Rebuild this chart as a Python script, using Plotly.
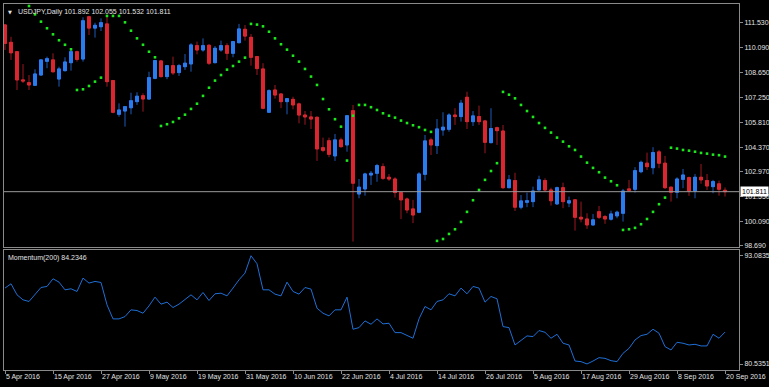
import pandas as pd
import plotly.graph_objects as go

# ---- data ----
dates = pd.bdate_range("2016-04-05", periods=121).strftime("%Y-%m-%d").tolist()

open_ = [111.40, 110.40, 109.86, 108.24, 108.08, 107.93, 108.52, 109.31, 109.39, 108.29,
         108.77, 109.23, 109.86, 109.44, 111.87, 111.22, 111.30, 111.46, 108.20, 106.26,
         106.45, 106.64, 106.99, 107.33, 107.14, 108.33, 109.33, 108.43, 109.06, 108.66,
         109.00, 109.16, 110.21, 109.96, 110.23, 109.23, 109.96, 110.21, 109.77, 110.38,
         111.15, 110.69, 109.58, 108.87, 106.38, 107.66, 107.43, 106.99, 107.12, 106.86,
         106.22, 106.11, 106.09, 104.34, 104.74, 103.87, 104.79, 104.50, 106.47, 101.68,
         101.97, 102.77, 102.87, 103.25, 102.64, 102.54, 101.76, 101.39, 100.82, 100.63,
         102.81, 104.79, 104.46, 105.36, 105.40, 106.22, 106.13, 107.24, 105.84, 106.13,
         105.88, 104.63, 105.49, 105.30, 102.04, 102.45, 100.92, 101.20, 101.24, 101.91,
         102.45, 101.91, 101.11, 102.04, 101.16, 101.34, 100.34, 100.24, 99.90, 100.66,
         100.38, 100.23, 100.42, 100.57, 101.97, 101.95, 102.96, 103.45, 103.19, 104.10,
         103.45, 102.07, 101.78, 102.52, 102.62, 101.85, 102.64, 102.45, 102.10, 102.26,
         101.892]
high = [111.45, 110.72, 109.90, 109.15, 108.52, 108.85, 109.42, 109.58, 109.77, 109.00,
        109.54, 110.02, 109.92, 111.84, 111.93, 111.53, 111.78, 111.87, 108.24, 106.89,
        106.74, 107.50, 107.53, 107.47, 108.71, 109.39, 109.39, 109.10, 109.58, 109.16,
        109.73, 110.35, 110.44, 110.63, 110.29, 110.19, 110.50, 110.35, 110.48, 111.46,
        111.40, 110.88, 109.62, 109.20, 107.70, 107.95, 107.47, 107.20, 107.27, 106.93,
        106.45, 106.45, 106.13, 104.92, 104.92, 105.13, 104.92, 106.22, 106.80, 102.54,
        102.90, 103.00, 103.41, 103.44, 102.83, 102.64, 101.81, 101.47, 101.34, 102.93,
        105.07, 104.92, 105.99, 106.38, 106.32, 106.61, 107.09, 107.56, 106.45, 106.76,
        105.94, 106.61, 105.55, 105.65, 102.77, 102.90, 101.62, 101.76, 102.10, 102.73,
        102.58, 102.04, 102.10, 102.33, 101.53, 101.38, 101.24, 100.57, 100.53, 100.99,
        100.47, 100.72, 100.72, 101.97, 102.49, 103.22, 103.60, 104.06, 104.37, 104.21,
        103.87, 102.10, 102.64, 103.12, 102.68, 102.83, 103.41, 102.83, 102.49, 102.45,
        102.055]
low = [109.96, 109.39, 107.66, 108.06, 107.66, 107.89, 108.50, 108.91, 108.66, 107.85,
       108.73, 108.77, 109.29, 109.29, 110.82, 110.67, 111.05, 107.85, 106.32, 106.12,
       105.55, 106.26, 106.80, 106.41, 107.12, 108.28, 108.37, 108.28, 108.52, 108.47,
       108.81, 108.71, 109.71, 109.86, 109.10, 109.20, 109.86, 109.39, 109.54, 110.35,
       110.50, 109.06, 108.52, 106.55, 106.35, 107.16, 106.61, 106.26, 106.55, 105.74,
       105.66, 105.42, 103.58, 104.08, 103.79, 103.58, 104.34, 104.11, 98.94, 101.43,
       101.58, 102.20, 102.38, 102.49, 102.43, 101.47, 100.23, 100.57, 100.00, 100.57,
       102.45, 103.92, 103.98, 105.03, 105.26, 105.65, 105.84, 105.42, 105.59, 105.65,
       104.02, 104.60, 104.50, 101.97, 102.01, 100.70, 100.80, 100.92, 100.92, 101.91,
       101.81, 101.01, 101.05, 100.86, 100.92, 99.57, 100.05, 99.67, 99.86, 100.24,
       99.96, 100.15, 100.28, 100.09, 101.81, 101.76, 102.87, 103.06, 102.81, 103.16,
       101.97, 101.24, 101.43, 102.01, 101.57, 101.43, 102.26, 101.91, 101.72, 101.58,
       101.532]
close = [110.34, 109.80, 108.24, 108.18, 107.95, 108.58, 109.39, 109.46, 108.71, 108.87,
         109.27, 109.86, 109.42, 111.64, 111.22, 111.38, 111.53, 108.14, 106.38, 106.51,
         106.70, 107.04, 107.30, 107.14, 108.37, 109.35, 108.43, 109.06, 108.64, 109.06,
         109.20, 110.25, 109.96, 110.21, 109.20, 110.06, 110.21, 109.77, 110.44, 111.17,
         110.76, 109.54, 108.89, 106.61, 107.62, 107.37, 106.99, 107.16, 106.80, 106.22,
         106.11, 105.99, 104.27, 104.19, 103.96, 104.79, 104.40, 106.18, 102.30, 102.07,
         102.83, 102.87, 103.31, 102.58, 102.54, 101.76, 101.34, 100.76, 100.47, 102.83,
         104.73, 104.50, 105.42, 105.52, 106.22, 106.13, 106.90, 105.84, 106.17, 105.84,
         104.65, 105.44, 105.32, 102.04, 102.49, 100.92, 101.28, 101.29, 101.85, 102.49,
         101.91, 101.29, 102.04, 101.24, 101.29, 100.34, 100.24, 99.90, 100.19, 100.34,
         100.24, 100.53, 100.63, 101.85, 101.89, 103.02, 103.50, 103.25, 104.06, 103.45,
         102.04, 101.78, 102.54, 102.77, 101.85, 102.64, 102.49, 102.14, 102.39, 101.95,
         101.811]
sar = [None, None, None, None, 112.49, 112.01, 111.59, 111.21, 110.86, 110.52,
       110.26, 110.00, 107.66, 107.70, 107.89, 108.14, 108.37, 111.92, 111.92, 111.92,
       111.55, 111.07, 110.63, 110.26, 109.86, 109.54, 105.59, 105.69, 105.82, 106.03,
       106.24, 106.57, 106.87, 107.32, 107.79, 108.20, 108.52, 108.83, 109.04, 109.29,
       109.52, 111.46, 111.42, 111.32, 111.01, 110.63, 110.29, 109.98, 109.63, 109.29,
       108.87, 108.43, 107.95, 107.14, 106.55, 105.98, 105.55, 103.60, 106.18, 106.80,
       106.80, 106.67, 106.51, 106.32, 106.18, 106.07, 105.90, 105.76, 105.63, 105.52,
       105.36, 105.25, 98.98, 99.09, 99.38, 99.65, 100.07, 100.65, 101.32, 101.91,
       102.49, 103.00, 103.45, 107.55, 107.39, 107.18, 106.80, 106.45, 106.11, 105.76,
       105.48, 105.21, 104.92, 104.69, 104.42, 104.21, 103.83, 103.48, 103.18, 102.93,
       102.62, 102.41, 102.18, 99.61, 99.65, 99.73, 99.94, 100.24, 100.65, 101.09,
       101.47, 104.34, 104.29, 104.21, 104.17, 104.11, 104.04, 104.00, 103.94, 103.91,
       103.83]
momentum = [89.33, 89.83, 88.55, 87.97, 87.78, 88.55, 89.40, 89.52, 90.41, 90.02,
            89.13, 89.25, 88.94, 90.49, 89.91, 90.10, 89.98, 87.39, 85.76, 85.76,
            86.03, 86.81, 86.73, 86.42, 87.27, 88.28, 87.47, 87.70, 87.08, 87.47,
            87.97, 88.55, 87.97, 88.82, 87.89, 88.67, 88.74, 88.43, 89.33, 90.29,
            91.07, 93.08, 92.15, 89.13, 89.13, 88.63, 88.43, 90.02, 88.94, 88.63,
            89.40, 89.21, 87.00, 86.42, 86.11, 86.81, 86.81, 88.28, 84.56, 84.75,
            85.53, 85.14, 85.76, 85.18, 85.26, 84.17, 84.17, 83.83, 83.52, 85.76,
            87.20, 86.81, 87.78, 87.97, 88.67, 88.43, 89.33, 88.67, 89.52, 89.33,
            87.70, 88.36, 88.09, 84.87, 84.75, 82.74, 83.32, 83.79, 83.71, 84.41,
            84.21, 83.52, 83.98, 82.94, 82.74, 80.88, 80.81, 80.54, 80.88, 81.27,
            81.19, 80.92, 80.81, 81.77, 82.35, 83.32, 83.83, 83.98, 84.56, 84.10,
            82.55, 82.16, 83.05, 82.94, 82.74, 82.82, 82.63, 82.63, 83.98, 83.52,
            84.2346]

price_ticks = [111.53, 110.09, 108.65, 107.25, 105.81, 104.37, 102.97, 101.55, 100.09, 98.69]
mom_ticks = [93.0835, 80.5351]
date_tick_idx = list(range(0, 121, 8))
date_labels = ["5 Apr 2016", "15 Apr 2016", "27 Apr 2016", "9 May 2016", "19 May 2016",
               "31 May 2016", "10 Jun 2016", "22 Jun 2016", "4 Jul 2016", "14 Jul 2016",
               "26 Jul 2016", "5 Aug 2016", "17 Aug 2016", "29 Aug 2016", "8 Sep 2016",
               "20 Sep 2016"]

# ---- style ----
GRID = "#8A8A8A"
TXT = "#E2E2E2"
FONT = "Liberation Sans"

body_hi = [max(o, c) for o, c in zip(open_, close)]
body_lo = [min(o, c) for o, c in zip(open_, close)]

fig = go.Figure()
# wicks (darker)
fig.add_trace(go.Candlestick(
    x=dates, open=open_, high=high, low=low, close=close,
    xaxis="x", yaxis="y", whiskerwidth=0,
    increasing=dict(line=dict(color="#1C58B8", width=1), fillcolor="#1C58B8"),
    decreasing=dict(line=dict(color="#9E1820", width=1), fillcolor="#9E1820"),
    hoverinfo="skip", showlegend=False))
# bodies (bright)
fig.add_trace(go.Candlestick(
    x=dates, open=open_, high=body_hi, low=body_lo, close=close,
    xaxis="x", yaxis="y", whiskerwidth=0,
    increasing=dict(line=dict(color="#2A7CF0", width=1), fillcolor="#2A7CF0"),
    decreasing=dict(line=dict(color="#DC2730", width=1), fillcolor="#DC2730"),
    hoverinfo="skip", showlegend=False))
# parabolic SAR
fig.add_trace(go.Scatter(
    x=dates, y=sar, mode="markers", xaxis="x", yaxis="y",
    marker=dict(symbol="square", size=2.6, color="#1EE61E", line=dict(width=0)),
    hoverinfo="skip", showlegend=False))
# momentum
fig.add_trace(go.Scatter(
    x=dates, y=momentum, mode="lines", xaxis="x2", yaxis="y2",
    line=dict(color="#1F6FD6", width=1),
    hoverinfo="skip", showlegend=False))

xr = [-1 / 6, 122.33]
common = dict(automargin=False, showgrid=False, zeroline=False,
              showline=True, mirror=True, linecolor=GRID, linewidth=1,
              fixedrange=True)
fig.update_layout(
    template="none",
    width=769, height=387,
    margin=dict(l=4, r=30, t=4, b=17, autoexpand=False),
    paper_bgcolor="black", plot_bgcolor="black",
    font=dict(family=FONT, size=7, color=TXT),
    showlegend=False,
    xaxis=dict(domain=[0, 1], anchor="y", type="category", range=xr,
               showticklabels=False, ticks="",
               rangeslider=dict(visible=False), **common),
    yaxis=dict(domain=[0.3361, 1], anchor="x", side="right",
               range=[98.63, 112.605], tickvals=price_ticks,
               ticktext=[f"{v:.3f}" for v in price_ticks],
               ticks="outside", ticklen=3, tickcolor=GRID, tickwidth=1,
               ticklabelstandoff=0,
               tickfont=dict(family=FONT, size=7, color=TXT), **common),
    xaxis2=dict(domain=[0, 1], anchor="y2", type="category", matches="x", range=xr,
                tickvals=[dates[i] for i in date_tick_idx], ticktext=date_labels,
                ticks="outside", ticklen=3, tickcolor=GRID, tickwidth=1,
                tickangle=0, ticklabelposition="outside right",
                ticklabelstandoff=0,
                tickfont=dict(family=FONT, size=7, color=TXT),
                rangeslider=dict(visible=False), **common),
    yaxis2=dict(domain=[0, 0.3292], anchor="x2", side="right",
                range=[79.84, 93.80], tickvals=mom_ticks,
                ticktext=[f"{v:.4f}" for v in mom_ticks],
                ticks="outside", ticklen=3, tickcolor=GRID, tickwidth=1,
                ticklabelstandoff=0,
                tickfont=dict(family=FONT, size=7, color=TXT), **common),
)

# bid line
fig.add_shape(type="line", xref="x domain", x0=0, x1=1, yref="y",
              y0=close[-1], y1=close[-1], line=dict(color="#9A9A9A", width=1))

title = f"USDJPY,Daily {open_[-1]:.3f} {high[-1]:.3f} {low[-1]:.3f} {close[-1]:.3f}"
fig.add_annotation(text=title, xref="paper", x=0, xanchor="left", xshift=12,
                   yref="paper", y=1, yanchor="top", yshift=-2, showarrow=False,
                   font=dict(family=FONT, size=7, color=TXT))
fig.add_annotation(text="▼", xref="paper", x=0, xanchor="left", xshift=2,
                   yref="paper", y=1, yanchor="top", yshift=-3, showarrow=False,
                   font=dict(family="DejaVu Sans", size=5, color=TXT))
fig.add_annotation(text=f"Momentum(200) {momentum[-1]:.4f}", xref="paper", x=0,
                   xanchor="left", xshift=2, yref="y2 domain", y=1, yanchor="top",
                   yshift=-2, showarrow=False, font=dict(family=FONT, size=7, color=TXT))
fig.add_annotation(text=f"{close[-1]:.3f}", xref="paper", x=1, xanchor="left", xshift=1,
                   yref="y", y=close[-1], yanchor="middle", showarrow=False,
                   bgcolor="white", borderpad=1,
                   font=dict(family=FONT, size=7, color="black"))

fig.write_html("out.html", config={"displayModeBar": False},
               post_script="document.body.style.margin='0';document.body.style.background='black';")
